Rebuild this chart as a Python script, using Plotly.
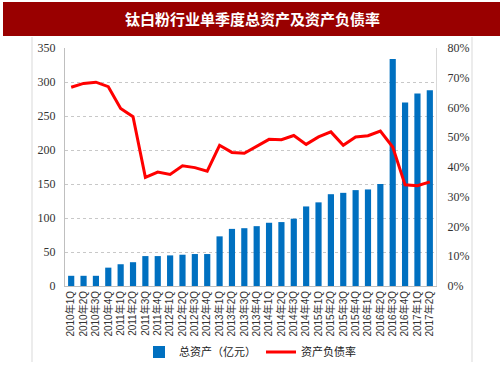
import plotly.graph_objects as go

quarters = ["2010年1Q", "2010年2Q", "2010年3Q", "2010年4Q",
            "2011年1Q", "2011年2Q", "2011年3Q", "2011年4Q",
            "2012年1Q", "2012年2Q", "2012年3Q", "2012年4Q",
            "2013年1Q", "2013年2Q", "2013年3Q", "2013年4Q",
            "2014年1Q", "2014年2Q", "2014年3Q", "2014年4Q",
            "2015年1Q", "2015年2Q", "2015年3Q", "2015年4Q",
            "2016年1Q", "2016年2Q", "2016年3Q", "2016年4Q",
            "2017年1Q", "2017年2Q"]

total_assets = [15, 15, 15, 27, 32, 35, 44, 44, 45, 46, 47, 47,
                73, 84, 85, 88, 93, 94, 99, 117, 123, 135, 137, 141,
                142, 150, 334, 270, 283, 288]

debt_ratio = [66.8, 68.1, 68.5, 67.0, 59.7, 56.9, 36.5, 38.3, 37.5, 40.4, 39.8, 38.6,
              47.3, 44.9, 44.6, 47.0, 49.3, 49.2, 50.6, 47.6, 50.1, 51.8, 47.3, 50.1,
              50.5, 52.1, 46.7, 34.0, 33.7, 35.0]

left_ticks = [0, 50, 100, 150, 200, 250, 300, 350]
right_ticks = [0, 10, 20, 30, 40, 50, 60, 70, 80]
right_labels = [f"{v}%" for v in right_ticks]

fig = go.Figure()
fig.add_trace(go.Bar(x=quarters, y=total_assets, name="总资产（亿元）",
                     marker=dict(color="#0070C0", line=dict(width=0)), yaxis="y"))
fig.add_trace(go.Scatter(x=quarters, y=debt_ratio, name="资产负债率", mode="lines",
                         line=dict(color="#FF0000", width=3), yaxis="y2"))

# plot area in pixels: x 65..436, y 48..286
L, R, T, B = 65, 436, 48, 286
W, H = R - L, B - T
def px(x):
    return (x - L) / W
def py(y):
    return (B - y) / H

fig.update_layout(
    width=503, height=378,
    margin=dict(l=L, r=503 - R, t=T, b=378 - B, autoexpand=False),
    paper_bgcolor="white", plot_bgcolor="white",
    bargap=0.5,
    showlegend=True,
    legend=dict(orientation="h", x=px(250), y=py(352), xanchor="center", yanchor="middle",
                font=dict(family="Noto Sans CJK SC", size=11, color="#222"),
                itemwidth=30, bgcolor="rgba(0,0,0,0)"),
    xaxis=dict(type="category", tickangle=-90, showgrid=False, ticks="",
               tickfont=dict(family="Liberation Sans, Noto Sans CJK SC", size=10, color="#333"),
               showline=True, linecolor="#bfbfbf", linewidth=1, range=[-0.5, len(quarters) - 0.5]),
    yaxis=dict(range=[0, 350], tickvals=left_ticks, showgrid=True, gridcolor="#c8c8c8",
               griddash="dot", gridwidth=1, zeroline=False,
               showline=True, linecolor="#bfbfbf", linewidth=1, ticks="",
               ticklabelstandoff=6,
               tickfont=dict(family="Liberation Serif", size=12, color="#333")),
    yaxis2=dict(range=[0, 80], tickvals=right_ticks, ticktext=right_labels, overlaying="y",
                side="right", showgrid=False, zeroline=False,
                showline=True, linecolor="#d9d9d9", linewidth=1, ticks="",
                ticklabelstandoff=8,
                tickfont=dict(family="Liberation Serif", size=12, color="#333")),
    shapes=[
        dict(type="rect", xref="paper", yref="paper", x0=px(3), x1=px(500), y0=py(36), y1=py(2),
             fillcolor="#990000", line=dict(width=0), layer="above"),
        dict(type="line", xref="paper", yref="paper", x0=px(32), x1=px(32), y0=py(37), y1=py(362),
             line=dict(color="#d9d9d9", width=1)),
        dict(type="line", xref="paper", yref="paper", x0=px(472), x1=px(472), y0=py(37), y1=py(362),
             line=dict(color="#d9d9d9", width=1)),
    ],
    annotations=[
        dict(text="<b>钛白粉行业单季度总资产及资产负债率</b>", xref="paper", yref="paper",
             x=px(252), y=py(19), xanchor="center", yanchor="middle", showarrow=False,
             font=dict(family="Noto Sans CJK SC", size=15, color="white")),
    ],
)

fig.write_html("out.html", config={"displayModeBar": False},
               post_script="document.body.style.margin='0';document.body.style.overflow='hidden';")
